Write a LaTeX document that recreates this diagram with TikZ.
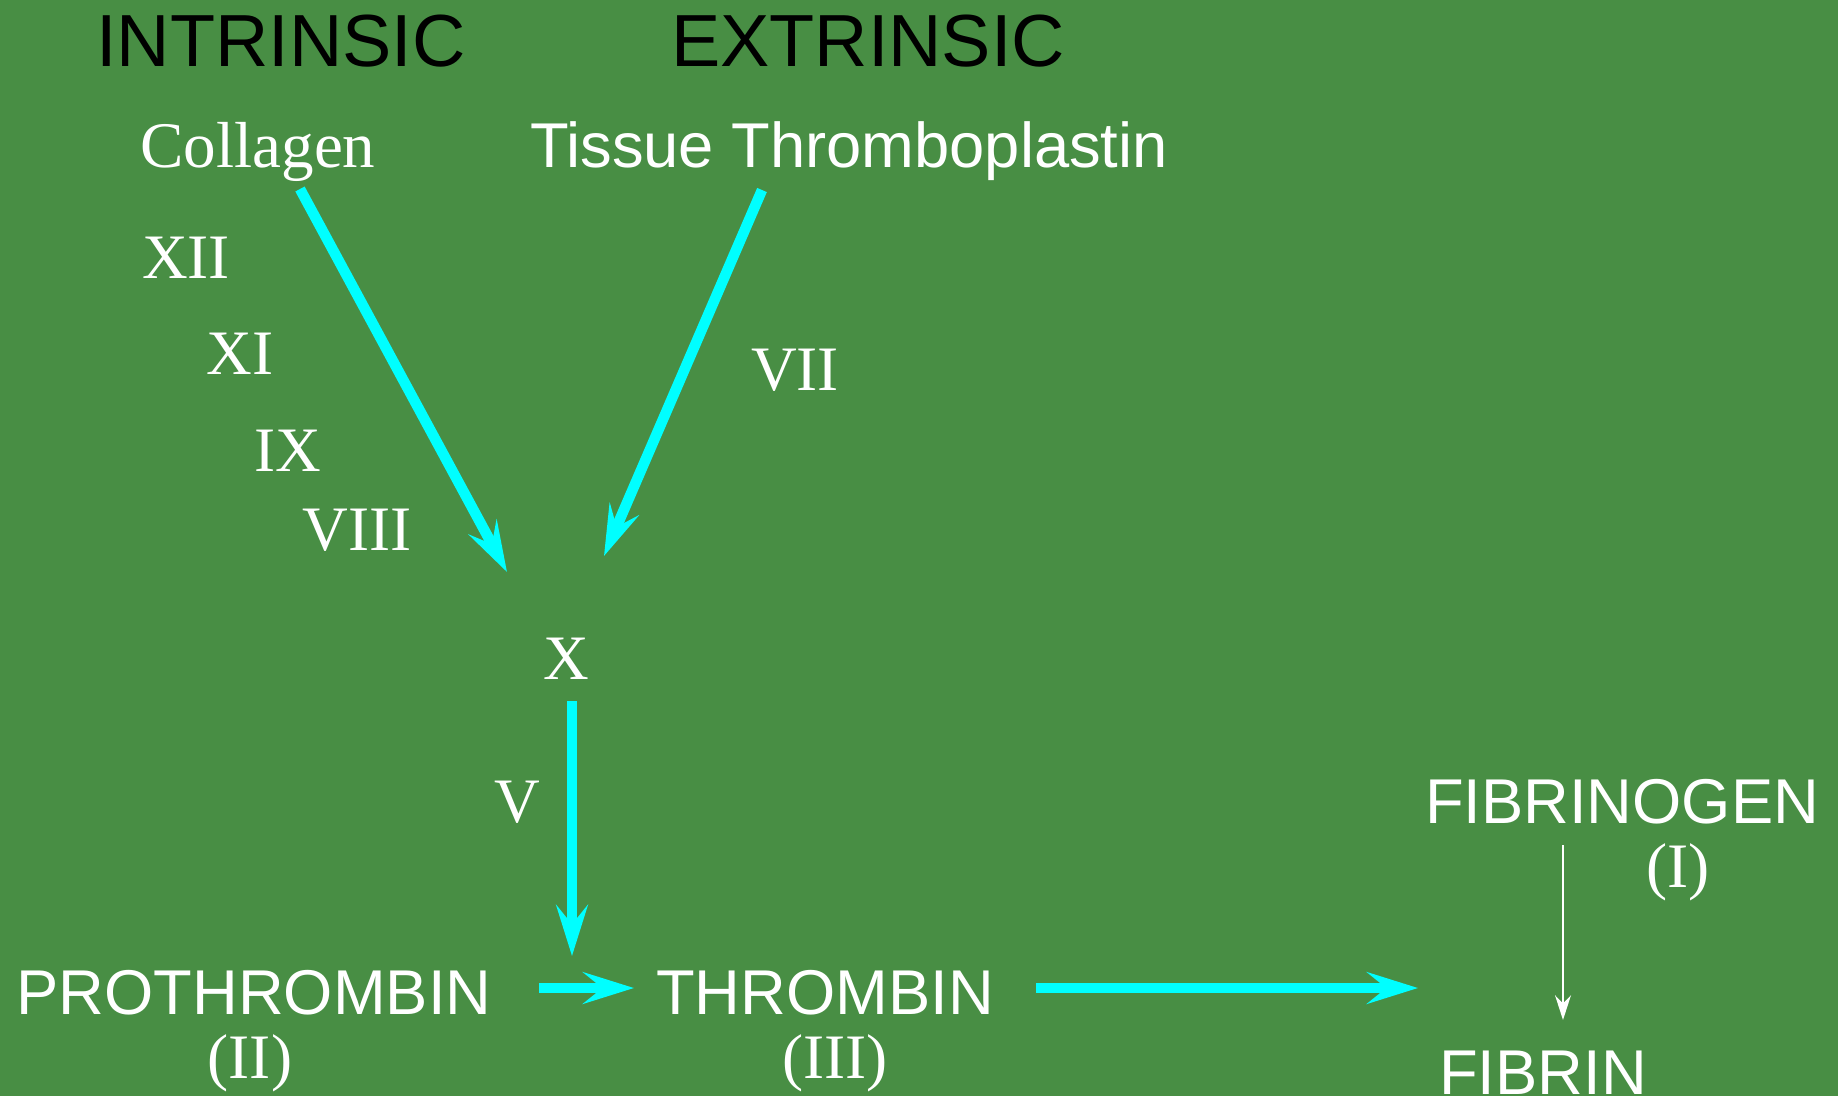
\documentclass[tikz,border=0pt]{standalone}
\usepackage{fontspec}
\setmainfont{Liberation Serif}
\setsansfont{Liberation Sans}
\usetikzlibrary{arrows.meta}
\definecolor{slidegreen}{RGB}{72,142,68}
\definecolor{aqua}{RGB}{0,255,255}
\tikzstyle{heading} = [anchor=base, inner sep=0pt, text=black, font=\sffamily\fontsize{21}{25}\selectfont]
\tikzstyle{protein} = [anchor=base, inner sep=0pt, text=white, font=\sffamily\fontsize{18}{22}\selectfont]
\tikzstyle{factor} = [anchor=base, inner sep=0pt, text=white, font=\rmfamily\fontsize{18}{22}\selectfont]
\tikzstyle{arrow} = [line width=3pt, draw=aqua, -{Stealth[length=14.5pt, width=9pt, inset=5.5pt]}]
\tikzstyle{thinarrow} = [line width=0.7pt, draw=white, -{Stealth[length=7pt, width=4.5pt, inset=2.3pt]}]
\begin{document}
\begin{tikzpicture}[x=0.01cm, y=-0.01cm]
    \useasboundingbox (0,0) rectangle (1838,1096);
    \fill [slidegreen] (0,0) rectangle (1838,1096);

    % pathways
    \node (intrinsic) [heading] at (281,66) {INTRINSIC};
    \node (extrinsic) [heading] at (868,66) {EXTRINSIC};
    \node (collagen) [factor, font=\rmfamily\fontsize{18.5}{22}\selectfont] at (258,167) {Collagen};
    \node (tissue) [protein] at (849,167) {Tissue Thromboplastin};

    % factors
    \node (xii) [factor] at (186,278) {XII};
    \node (xi) [factor] at (240,374) {XI};
    \node (ix) [factor] at (288,471) {IX};
    \node (viii) [factor] at (357,550) {VIII};
    \node (vii) [factor] at (795,390) {VII};
    \node (x) [factor] at (566,679) {X};
    \node (v) [factor] at (517,822) {V};

    % common pathway
    \node (prothrombin) [protein] at (254,1014) {PROTHROMBIN};
    \node (ii) [factor] at (250,1078) {(II)};
    \node (thrombin) [protein] at (825,1014) {THROMBIN};
    \node (iii) [factor] at (835,1078) {(III)};
    \node (fibrinogen) [protein] at (1622,823) {FIBRINOGEN};
    \node (i) [factor] at (1678,887) {(I)};
    \node (fibrin) [protein] at (1543,1094) {FIBRIN};

    \coordinate (collagen-out) at (300,189);
    \coordinate (tissue-out) at (762,190);
    \coordinate (x-in-left) at (507,572);
    \coordinate (x-in-right) at (604,556);
    \coordinate (x-out) at (572,701);
    \coordinate (thrombin-in-top) at (572,956);
    \coordinate (prothrombin-out) at (539,988);
    \coordinate (thrombin-in) at (634,988);
    \coordinate (thrombin-out) at (1036,988);
    \coordinate (fibrin-in-left) at (1418,988);
    \coordinate (fibrinogen-out) at (1563,845);
    \coordinate (fibrin-in) at (1563,1020);

    \draw [arrow] (collagen-out) -- (x-in-left);
    \draw [arrow] (tissue-out) -- (x-in-right);
    \draw [arrow] (x-out) -- (thrombin-in-top);
    \draw [arrow] (prothrombin-out) -- (thrombin-in);
    \draw [arrow] (thrombin-out) -- (fibrin-in-left);
    \draw [thinarrow] (fibrinogen-out) -- (fibrin-in);
\end{tikzpicture}
\end{document}
